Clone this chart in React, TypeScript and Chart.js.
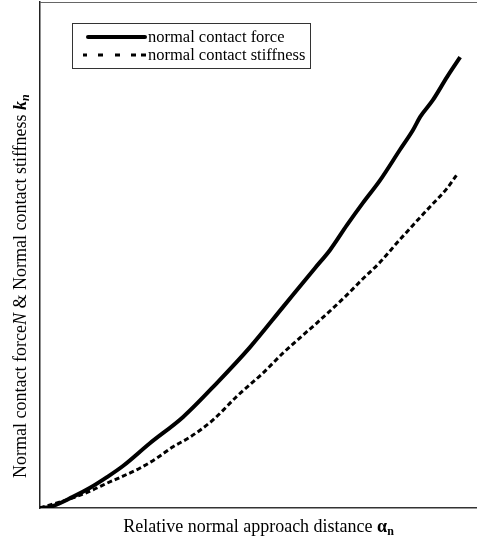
import React, { useEffect, useRef } from "react";
import { Chart, registerables } from "chart.js";

Chart.register(...registerables);

// Relative normal approach distance (arbitrary units, 0..~104 across the plot)
const forceX = [0, 2.4, 7.8, 11.9, 15.9, 19.7, 26.1, 34.0, 42.0, 49.9, 57.7, 65.3, 68.9, 72.9, 76.7, 80.8, 85.5, 88.6, 90.3, 93.3, 96.7, 99.8];
const forceY = [0, 0.2, 2.2, 4.0, 6.1, 8.3, 12.8, 18.0, 24.7, 31.8, 39.7, 47.4, 51.0, 55.9, 60.3, 64.8, 70.8, 74.7, 77.3, 80.6, 85.2, 89.1];

const stiffX = [0, 7.8, 12.6, 15.9, 19.7, 23.8, 27.8, 31.6, 35.6, 41.1, 46.8, 53.0, 57.7, 62.5, 65.8, 72.4, 76.7, 80.8, 84.8, 88.6, 92.6, 96.7, 99.3];
const stiffY = [0, 2.0, 3.6, 4.9, 6.3, 7.9, 9.9, 12.1, 14.0, 17.4, 22.1, 26.7, 30.6, 34.2, 36.6, 41.7, 45.3, 48.6, 52.4, 55.9, 59.5, 63.2, 66.2];

const seriesNames = ["normal contact force", "normal contact stiffness"];
const xTitleMain = "Relative normal approach distance ";
const xTitleSym = "α";
const xTitleSub = "n";
const yTitleParts = ["Normal contact force", "N", " & Normal contact stiffness ", "k", "n"];

const SERIF = '"Liberation Serif", "Times New Roman", serif';

const decorPlugin = {
  id: "decor",
  afterDraw(chart: any) {
    const ctx = chart.ctx as CanvasRenderingContext2D;
    const area = chart.chartArea;
    ctx.save();
    // top frame line
    ctx.strokeStyle = "#666";
    ctx.lineWidth = 1;
    ctx.beginPath();
    ctx.moveTo(area.left, area.top + 0.5);
    ctx.lineTo(area.right, area.top + 0.5);
    ctx.stroke();

    // legend box
    ctx.strokeStyle = "#333";
    ctx.lineWidth = 1;
    ctx.strokeRect(72.5, 23.5, 238, 45);
    ctx.strokeStyle = "#000";
    ctx.lineWidth = 4;
    ctx.lineCap = "round";
    ctx.beginPath();
    ctx.moveTo(88, 37);
    ctx.lineTo(145, 37);
    ctx.stroke();
    ctx.lineCap = "butt";
    ctx.lineWidth = 3;
    ctx.beginPath();
    [[83, 87], [98, 103], [115, 120], [131, 136], [141, 146]].forEach(([a, b]) => {
      ctx.moveTo(a, 55);
      ctx.lineTo(b, 55);
    });
    ctx.stroke();
    ctx.fillStyle = "#000";
    ctx.font = `16.5px ${SERIF}`;
    ctx.textBaseline = "alphabetic";
    ctx.textAlign = "left";
    ctx.fillText(seriesNames[0], 148, 42);
    ctx.fillText(seriesNames[1], 148, 60);

    // x title
    const mainFont = `18px ${SERIF}`;
    const symFont = `bold 18px ${SERIF}`;
    const subFont = `bold 12px ${SERIF}`;
    ctx.font = mainFont;
    const w1 = ctx.measureText(xTitleMain).width;
    ctx.font = symFont;
    const w2 = ctx.measureText(xTitleSym).width;
    ctx.font = subFont;
    const w3 = ctx.measureText(xTitleSub).width;
    const total = w1 + w2 + w3;
    let x = (area.left + area.right) / 2 - total / 2;
    const by = 532;
    ctx.font = mainFont;
    ctx.fillText(xTitleMain, x, by);
    x += w1;
    ctx.font = symFont;
    ctx.fillText(xTitleSym, x, by);
    x += w2;
    ctx.font = subFont;
    ctx.fillText(xTitleSub, x, by + 3);

    // y title
    ctx.translate(26, 478);
    ctx.rotate(-Math.PI / 2);
    const fonts = [mainFont, `italic 18px ${SERIF}`, mainFont, `bold italic 18px ${SERIF}`, `bold italic 12px ${SERIF}`];
    const offs = [0, 0, 0, 0, 3];
    let px = 0;
    yTitleParts.forEach((t, i) => {
      ctx.font = fonts[i];
      ctx.fillText(t, px, offs[i]);
      px += ctx.measureText(t).width;
    });
    ctx.restore();
  },
};

export default function App() {
  const ref = useRef<HTMLCanvasElement>(null);
  useEffect(() => {
    document.body.style.margin = "0";
    const chart = new Chart(ref.current!, {
      type: "line",
      data: {
        datasets: [
          {
            label: seriesNames[0],
            data: forceX.map((v, i) => ({ x: v, y: forceY[i] })),
            borderColor: "#000",
            borderWidth: 4,
            pointRadius: 0,
            cubicInterpolationMode: "monotone",
            fill: false,
          },
          {
            label: seriesNames[1],
            data: stiffX.map((v, i) => ({ x: v, y: stiffY[i] })),
            borderColor: "#000",
            borderWidth: 3,
            borderDash: [5, 3],
            pointRadius: 0,
            cubicInterpolationMode: "monotone",
            fill: false,
          },
        ],
      },
      options: {
        animation: false,
        responsive: false,
        devicePixelRatio: 1,
        layout: { padding: { left: 40, right: 0, top: 2, bottom: 33 } },
        plugins: { legend: { display: false }, tooltip: { enabled: false } },
        scales: {
          x: {
            type: "linear",
            min: 0,
            max: 103.8,
            grid: { display: false },
            ticks: { display: false },
            border: { display: true, color: "#333", width: 1.5 },
            afterFit: (s: any) => { s.height = 0; },
          },
          y: {
            type: "linear",
            min: 0,
            max: 100,
            grid: { display: false },
            ticks: { display: false },
            border: { display: true, color: "#222", width: 1.5 },
            afterFit: (s: any) => { s.width = 0; },
          },
        },
      },
      plugins: [decorPlugin],
    });
    return () => chart.destroy();
  }, []);
  return (
    <div style={{ position: "absolute", left: 0, top: 0, width: 477, height: 541, background: "#fff" }}>
      <canvas ref={ref} width={477} height={541} />
    </div>
  );
}
